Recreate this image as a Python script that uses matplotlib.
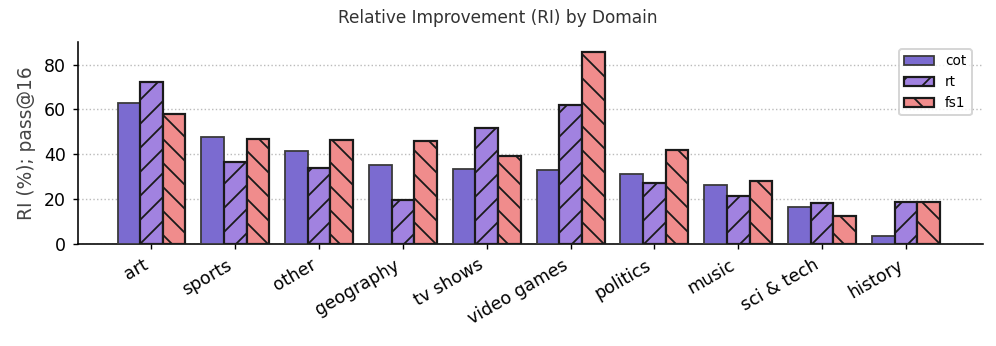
import matplotlib
matplotlib.use("Agg")
import matplotlib.pyplot as plt
import numpy as np

# relative improvement per domain, pass@16
domains = ["art", "sports", "other", "geography", "tv shows", "video games",
           "politics", "music", "sci & tech", "history"]
cot = [62.8, 47.7, 41.5, 35.0, 33.5, 33.2, 31.3, 26.4, 16.3, 3.7]
rt = [72.3, 36.7, 33.9, 19.7, 51.6, 61.9, 27.0, 21.3, 18.1, 18.8]
fs1 = [57.9, 46.7, 46.5, 45.8, 39.4, 85.8, 41.8, 27.9, 12.4, 18.5]

plt.rcParams["hatch.linewidth"] = 0.9

DPI = 144
fig, ax = plt.subplots(figsize=(996 / DPI, 346 / DPI), dpi=DPI)
x = np.arange(len(domains))
w = 0.27

ax.bar(x - w, cot, w, color="#7b6bd0", edgecolor="#3a3a3a", linewidth=0.9, label="cot", zorder=3)
ax.bar(x, rt, w, color="#a182e0", edgecolor="#1a1a1a", linewidth=1.1, hatch="//", label="rt", zorder=3)
ax.bar(x + w, fs1, w, color="#f08c8c", edgecolor="#1a1a1a", linewidth=1.1, hatch="\\\\", label="fs1", zorder=3)

ax.set_xticks(x)
ax.set_xticklabels(domains, rotation=30, ha="right", fontsize=8.7)
ax.tick_params(axis="y", labelsize=8.7)
ax.tick_params(length=2.5, width=0.7)
ax.set_ylim(0, 90)
ax.set_yticks([0, 20, 40, 60, 80])
ax.set_xlim(-0.88, 9.92)
ax.set_ylabel("RI (%); pass@16", fontsize=9.3, color="#444444")
fig.suptitle("Relative Improvement (RI) by Domain", x=0.5, y=0.975, fontsize=8.5, color="#333333")
ax.grid(axis="y", linestyle=":", color="#bbbbbb", linewidth=0.7, zorder=0)
ax.spines["top"].set_visible(False)
ax.spines["right"].set_visible(False)
ax.spines["left"].set_linewidth(0.8)
ax.spines["bottom"].set_linewidth(0.8)
ax.legend(loc="upper right", fontsize=6.8, handlelength=2.2, bbox_to_anchor=(0.995, 1.0))

fig.subplots_adjust(left=0.078, right=0.987, top=0.878, bottom=0.295)
fig.savefig("out.png", dpi=DPI)
